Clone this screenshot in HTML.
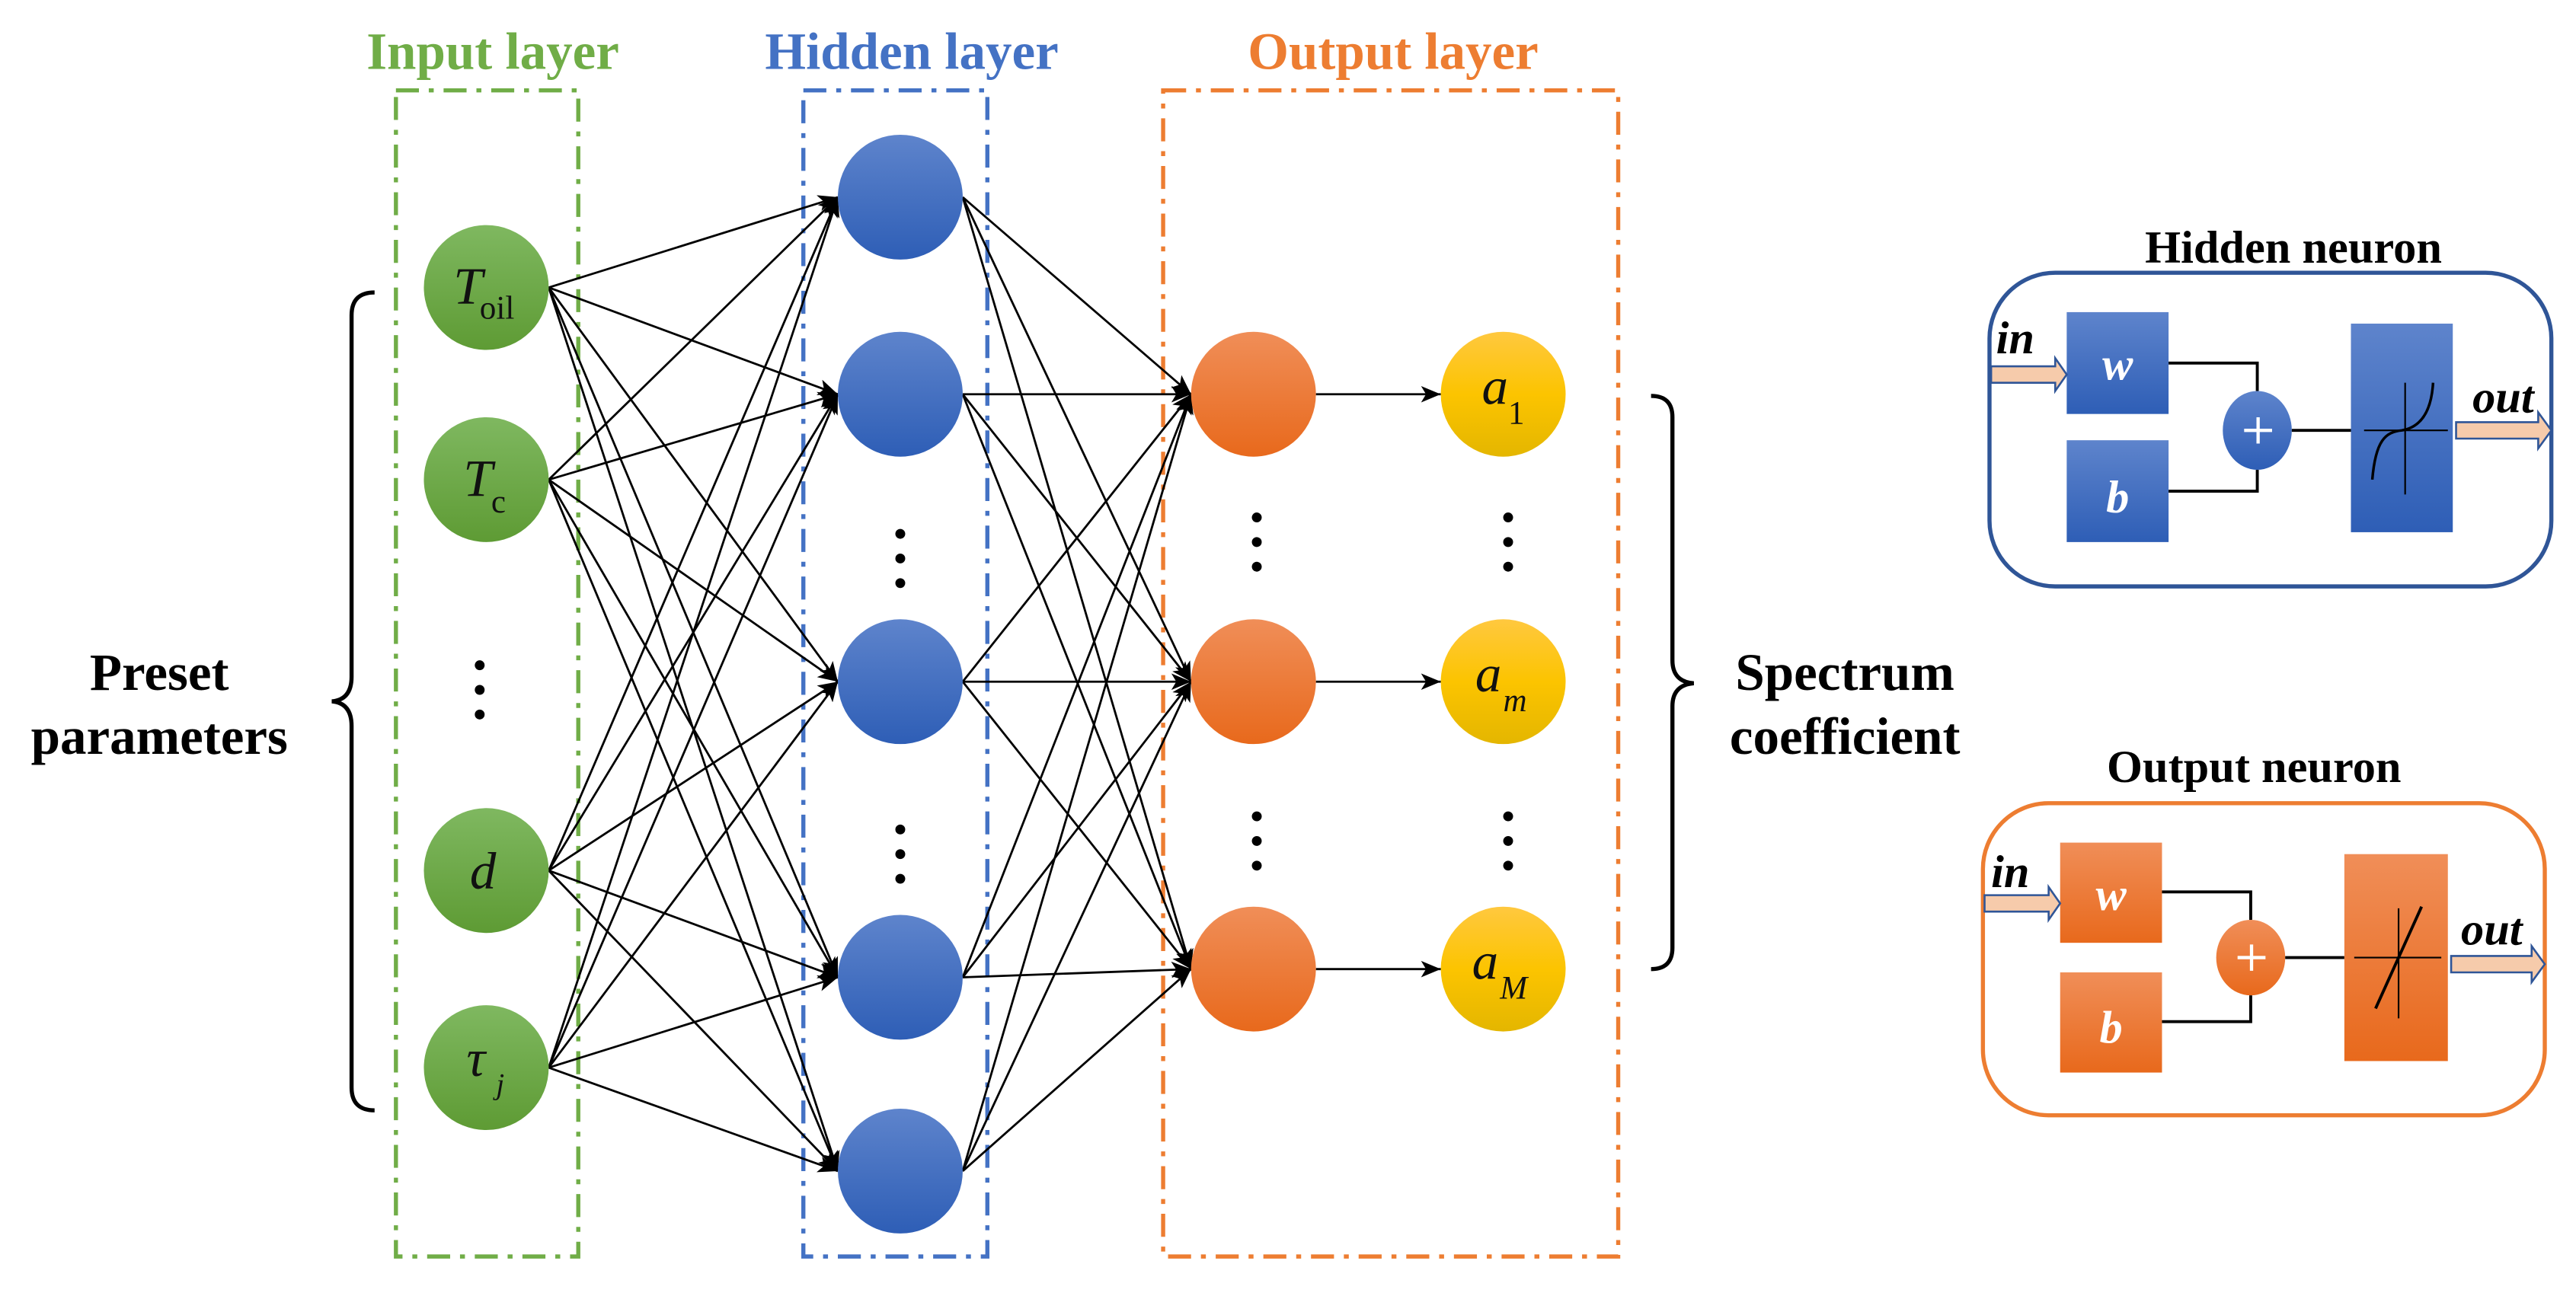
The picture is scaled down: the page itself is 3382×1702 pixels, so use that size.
<!DOCTYPE html>
<html><head><meta charset="utf-8"><style>
html,body{margin:0;padding:0;background:#fff}
svg{display:block}
text{font-family:"Liberation Serif",serif}
</style></head><body>
<svg width="3382" height="1702" viewBox="0 0 1568 789" xmlns="http://www.w3.org/2000/svg">
<defs>
<linearGradient id="gG" x1="0" y1="0" x2="0" y2="1"><stop offset="0" stop-color="#7fb860"/><stop offset="1" stop-color="#5e9b34"/></linearGradient>
<linearGradient id="gB" x1="0" y1="0" x2="0" y2="1"><stop offset="0" stop-color="#5e84cc"/><stop offset="1" stop-color="#2e5eb6"/></linearGradient>
<linearGradient id="gO" x1="0" y1="0" x2="0" y2="1"><stop offset="0" stop-color="#f08e58"/><stop offset="1" stop-color="#e8691c"/></linearGradient>
<linearGradient id="gY" x1="0" y1="0" x2="0" y2="1"><stop offset="0" stop-color="#ffc83f"/><stop offset="0.5" stop-color="#fcc400"/><stop offset="1" stop-color="#e4b600"/></linearGradient>
<marker id="ar" viewBox="0 0 12 10" refX="12" refY="5" markerWidth="12" markerHeight="10" markerUnits="userSpaceOnUse" orient="auto">
<path d="M0,0 L12,5 L0,10 L3,5 z" fill="#000"/></marker>
</defs>

<rect x="241" y="55" width="111" height="710" fill="none" stroke="#70ad47" stroke-width="2.5" stroke-dasharray="14,6,3,6"/>
<rect x="489" y="55" width="112" height="710" fill="none" stroke="#4472c4" stroke-width="2.5" stroke-dasharray="14,6,3,6"/>
<rect x="708" y="55" width="277" height="710" fill="none" stroke="#ed7d31" stroke-width="2.5" stroke-dasharray="14,6,3,6"/>

<text x="300" y="42" text-anchor="middle" font-size="32" font-weight="bold" fill="#70ad47">Input layer</text>
<text x="555" y="42" text-anchor="middle" font-size="32" font-weight="bold" fill="#4472c4">Hidden layer</text>
<text x="848" y="42" text-anchor="middle" font-size="32" font-weight="bold" fill="#ed7d31">Output layer</text>

<g stroke="#000" stroke-width="1.3" marker-end="url(#ar)">
<line x1="334" y1="175" x2="510" y2="120"/><line x1="334" y1="175" x2="510" y2="240"/><line x1="334" y1="175" x2="510" y2="415"/><line x1="334" y1="175" x2="510" y2="595"/><line x1="334" y1="175" x2="510" y2="713"/>
<line x1="334" y1="292" x2="510" y2="120"/><line x1="334" y1="292" x2="510" y2="240"/><line x1="334" y1="292" x2="510" y2="415"/><line x1="334" y1="292" x2="510" y2="595"/><line x1="334" y1="292" x2="510" y2="713"/>
<line x1="334" y1="530" x2="510" y2="120"/><line x1="334" y1="530" x2="510" y2="240"/><line x1="334" y1="530" x2="510" y2="415"/><line x1="334" y1="530" x2="510" y2="595"/><line x1="334" y1="530" x2="510" y2="713"/>
<line x1="334" y1="650" x2="510" y2="120"/><line x1="334" y1="650" x2="510" y2="240"/><line x1="334" y1="650" x2="510" y2="415"/><line x1="334" y1="650" x2="510" y2="595"/><line x1="334" y1="650" x2="510" y2="713"/>
<line x1="586" y1="120" x2="725" y2="240"/><line x1="586" y1="120" x2="725" y2="415"/><line x1="586" y1="120" x2="725" y2="590"/>
<line x1="586" y1="240" x2="725" y2="240"/><line x1="586" y1="240" x2="725" y2="415"/><line x1="586" y1="240" x2="725" y2="590"/>
<line x1="586" y1="415" x2="725" y2="240"/><line x1="586" y1="415" x2="725" y2="415"/><line x1="586" y1="415" x2="725" y2="590"/>
<line x1="586" y1="595" x2="725" y2="240"/><line x1="586" y1="595" x2="725" y2="415"/><line x1="586" y1="595" x2="725" y2="590"/>
<line x1="586" y1="713" x2="725" y2="240"/><line x1="586" y1="713" x2="725" y2="415"/><line x1="586" y1="713" x2="725" y2="590"/>
<line x1="801" y1="240" x2="877" y2="240"/><line x1="801" y1="415" x2="877" y2="415"/><line x1="801" y1="590" x2="877" y2="590"/>
</g>

<g fill="url(#gG)">
<circle cx="296" cy="175" r="38"/><circle cx="296" cy="292" r="38"/><circle cx="296" cy="530" r="38"/><circle cx="296" cy="650" r="38"/>
</g>
<g fill="url(#gB)">
<circle cx="548" cy="120" r="38"/><circle cx="548" cy="240" r="38"/><circle cx="548" cy="415" r="38"/><circle cx="548" cy="595" r="38"/><circle cx="548" cy="713" r="38"/>
</g>
<g fill="url(#gO)">
<circle cx="763" cy="240" r="38"/><circle cx="763" cy="415" r="38"/><circle cx="763" cy="590" r="38"/>
</g>
<g fill="url(#gY)">
<circle cx="915" cy="240" r="38"/><circle cx="915" cy="415" r="38"/><circle cx="915" cy="590" r="38"/>
</g>

<g font-style="italic" font-size="32" fill="#111">
<text x="276" y="185">T</text><text x="292" y="194" font-style="normal" font-size="20">oil</text>
<text x="282" y="302">T</text><text x="299" y="312" font-style="normal" font-size="20">c</text>
<text x="286" y="541">d</text>
<text x="284" y="655">τ</text><text x="302" y="666" font-size="18">j</text>
<text x="902" y="246">a</text><text x="918" y="258" font-style="normal" font-size="20">1</text>
<text x="898" y="421">a</text><text x="915" y="433" font-size="20">m</text>
<text x="896" y="596">a</text><text x="913" y="608" font-size="20">M</text>
</g>

<g fill="#000">
<circle cx="292" cy="405" r="3"/><circle cx="292" cy="420" r="3"/><circle cx="292" cy="435" r="3"/>
<circle cx="548" cy="325" r="3"/><circle cx="548" cy="340" r="3"/><circle cx="548" cy="355" r="3"/>
<circle cx="548" cy="505" r="3"/><circle cx="548" cy="520" r="3"/><circle cx="548" cy="535" r="3"/>
<circle cx="765" cy="315" r="3"/><circle cx="765" cy="330" r="3"/><circle cx="765" cy="345" r="3"/>
<circle cx="918" cy="315" r="3"/><circle cx="918" cy="330" r="3"/><circle cx="918" cy="345" r="3"/>
<circle cx="765" cy="497" r="3"/><circle cx="765" cy="512" r="3"/><circle cx="765" cy="527" r="3"/>
<circle cx="918" cy="497" r="3"/><circle cx="918" cy="512" r="3"/><circle cx="918" cy="527" r="3"/>
</g>

<path d="M228,178 Q214,178 214,192 L214,412 Q214,426 202,427 Q214,428 214,442 L214,662 Q214,676 228,676" fill="none" stroke="#000" stroke-width="2.5"/>
<path d="M1005,241 Q1018,241 1018,254 L1018,402 Q1018,415 1031,416 Q1018,417 1018,430 L1018,577 Q1018,590 1005,590" fill="none" stroke="#000" stroke-width="2.5"/>

<g font-size="32" font-weight="bold" fill="#000">
<text x="97" y="420" text-anchor="middle">Preset</text>
<text x="97" y="459" text-anchor="middle">parameters</text>
<text x="1123" y="420" text-anchor="middle">Spectrum</text>
<text x="1123" y="459" text-anchor="middle">coefficient</text>
</g>

<text x="1396" y="160" text-anchor="middle" font-size="28" font-weight="bold">Hidden neuron</text>
<rect x="1211" y="166" width="342" height="191" rx="40" fill="none" stroke="#2f5597" stroke-width="2.5"/>
<rect x="1258" y="190" width="62" height="62" fill="url(#gB)"/>
<rect x="1258" y="268" width="62" height="62" fill="url(#gB)"/>
<polyline points="1320,221 1374,221 1374,238" fill="none" stroke="#000" stroke-width="1.8"/>
<polyline points="1320,299 1374,299 1374,286" fill="none" stroke="#000" stroke-width="1.8"/>
<ellipse cx="1374" cy="262" rx="21" ry="24" fill="url(#gB)"/>
<path d="M1366,262 H1383 M1374.5,254 V270" stroke="#fff" stroke-width="2"/>
<line x1="1395" y1="262" x2="1431" y2="262" stroke="#000" stroke-width="1.8"/>
<rect x="1431" y="197" width="62" height="127" fill="url(#gB)"/>
<path d="M1439,262 H1490 M1464,233 V301" stroke="#000" stroke-width="1"/>
<path d="M1444,292 C1446,268 1452,263 1462,262 C1474,260 1480,250 1481,233" fill="none" stroke="#000" stroke-width="1.6"/>
<path d="M1212,223 H1251 V218 L1258,228 L1251,238 V233 H1212 z" fill="#f6cbab" stroke="#2f5597" stroke-width="1.2"/>
<path d="M1495,257 H1545 V251 L1553,262 L1545,273 V267 H1495 z" fill="#f6cbab" stroke="#2f5597" stroke-width="1.2"/>
<g font-style="italic" font-weight="bold">
<text x="1215" y="215" font-size="28">in</text>
<text x="1505" y="251" font-size="28">out</text>
<text x="1289" y="231" text-anchor="middle" font-size="28" fill="#fff">w</text>
<text x="1289" y="312" text-anchor="middle" font-size="28" fill="#fff">b</text>
</g>

<text x="1372" y="476" text-anchor="middle" font-size="28" font-weight="bold">Output neuron</text>
<rect x="1207" y="489" width="342" height="190" rx="40" fill="none" stroke="#ed7d31" stroke-width="2.5"/>
<rect x="1254" y="513" width="62" height="61" fill="url(#gO)"/>
<rect x="1254" y="592" width="62" height="61" fill="url(#gO)"/>
<polyline points="1316,543 1370,543 1370,560" fill="none" stroke="#000" stroke-width="1.8"/>
<polyline points="1316,622 1370,622 1370,606" fill="none" stroke="#000" stroke-width="1.8"/>
<ellipse cx="1370" cy="583" rx="21" ry="23" fill="url(#gO)"/>
<path d="M1362,583 H1379 M1370.5,575 V591" stroke="#fff" stroke-width="2"/>
<line x1="1391" y1="583" x2="1427" y2="583" stroke="#000" stroke-width="1.8"/>
<rect x="1427" y="520" width="63" height="126" fill="url(#gO)"/>
<path d="M1433,583 H1486 M1460,553 V620" stroke="#000" stroke-width="1"/>
<line x1="1446" y1="614" x2="1474" y2="552" stroke="#000" stroke-width="1.8"/>
<path d="M1208,545 H1247 V540 L1254,550 L1247,560 V555 H1208 z" fill="#f6cbab" stroke="#2f5597" stroke-width="1.2"/>
<path d="M1492,582 H1541 V576 L1549,587 L1541,598 V592 H1492 z" fill="#f6cbab" stroke="#2f5597" stroke-width="1.2"/>
<g font-style="italic" font-weight="bold">
<text x="1212" y="540" font-size="28">in</text>
<text x="1498" y="575" font-size="28">out</text>
<text x="1285" y="554" text-anchor="middle" font-size="28" fill="#fff">w</text>
<text x="1285" y="635" text-anchor="middle" font-size="28" fill="#fff">b</text>
</g>
</svg>
</body></html>
